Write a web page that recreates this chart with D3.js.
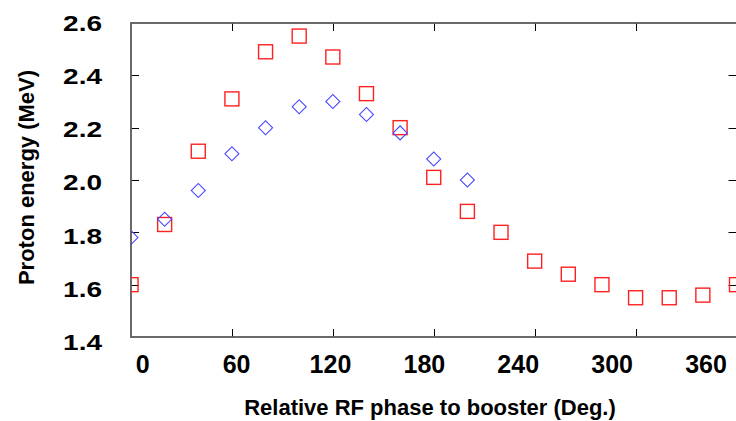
<!DOCTYPE html>
<html>
<head>
<meta charset="utf-8">
<script src="https://cdn.jsdelivr.net/npm/d3@7"></script>
<style>
  html, body { margin: 0; padding: 0; background: #fff; }
  svg { display: block; }
  text { font-family: "Liberation Sans", Arial, sans-serif; font-weight: bold; fill: #000; }
</style>
</head>
<body>
<svg id="chart" width="736" height="421"></svg>
<script>
// ---- data ----
const phaseRed = [0, 20, 40, 60, 80, 100, 120, 140, 160, 180, 200, 220, 240, 260, 280, 300, 320, 340, 360];
const energyRed = [1.60, 1.83, 2.11, 2.31, 2.49, 2.55, 2.47, 2.33, 2.20, 2.01, 1.88, 1.80, 1.69, 1.64, 1.60, 1.55, 1.55, 1.56, 1.60];
const phaseBlue = [0, 20, 40, 60, 80, 100, 120, 140, 160, 180, 200];
const energyBlue = [1.78, 1.85, 1.96, 2.10, 2.20, 2.28, 2.30, 2.25, 2.18, 2.08, 2.00];
const xTicks = [0, 60, 120, 180, 240, 300, 360];
const yTicks = [1.4, 1.6, 1.8, 2.0, 2.2, 2.4, 2.6];
const xTitle = "Relative RF phase to booster (Deg.)";
const yTitle = "Proton energy (MeV)";

// ---- layout ----
const pL = 131, pR = 736.5, pT = 23, pB = 337;
const svg = d3.select("#chart");

const x = d3.scaleLinear().domain([0, 360]).range([pL, pR]);
const y = d3.scaleLinear().domain([1.4, 2.6]).range([pB, pT]);
// label placement scales (labels in the original are offset from the ticks)
const xLab = d3.scaleLinear().domain([0, 360]).range([142.7, 706]);
const yLab = d3.scaleLinear().domain([1.4, 2.6]).range([342.5, 22.7]);

// clip
svg.append("clipPath").attr("id", "clip")
  .append("rect").attr("x", pL).attr("y", pT).attr("width", pR - pL + 2).attr("height", pB - pT);

// ticks (inward) on all four sides
const tickLen = 8;
const gT = svg.append("g").attr("stroke", "#000").attr("stroke-width", 1);
xTicks.slice(1, -1).forEach(v => {
  const xx = Math.round(x(v)) + 0.5;
  gT.append("line").attr("x1", xx).attr("x2", xx).attr("y1", pB).attr("y2", pB - tickLen);
  gT.append("line").attr("x1", xx).attr("x2", xx).attr("y1", pT).attr("y2", pT + tickLen);
});
yTicks.slice(1, -1).forEach(v => {
  const yy = Math.round(y(v)) + 0.5;
  gT.append("line").attr("y1", yy).attr("y2", yy).attr("x1", pL).attr("x2", pL + tickLen);
  gT.append("line").attr("y1", yy).attr("y2", yy).attr("x1", pR).attr("x2", pR - tickLen);
});

// frame
svg.append("rect").attr("x", pL).attr("y", pT)
  .attr("width", pR - pL + 2).attr("height", pB - pT)
  .attr("fill", "none").attr("stroke", "#5a5a5a").attr("stroke-width", 1.8);

// markers
const gM = svg.append("g").attr("clip-path", "url(#clip)");
const redPts = phaseRed.map((p, i) => ({ p, e: energyRed[i] }));
const bluePts = phaseBlue.map((p, i) => ({ p, e: energyBlue[i] }));

gM.selectAll("rect.red").data(redPts).enter().append("rect")
  .attr("class", "red")
  .attr("x", d => x(d.p) - 7).attr("y", d => y(d.e) - 7)
  .attr("width", 14).attr("height", 14)
  .attr("fill", "none").attr("stroke", "#ff2020").attr("stroke-width", 1.4);

const diamond = d3.symbol().type(d3.symbolSquare).size(98);
gM.selectAll("path.blue").data(bluePts).enter().append("path")
  .attr("class", "blue")
  .attr("d", diamond)
  .attr("transform", d => `translate(${x(d.p)},${y(d.e)}) rotate(45)`)
  .attr("fill", "none").attr("stroke", "#4848ff").attr("stroke-width", 1.1);

// tick labels
svg.append("g").selectAll("text").data(xTicks).enter().append("text")
  .attr("x", d => xLab(d)).attr("y", 373)
  .attr("text-anchor", "middle").attr("font-size", 25)
  .text(d => d);

svg.append("g").selectAll("text").data(yTicks).enter().append("text")
  .attr("transform", d => `translate(102,${yLab(d)}) scale(1.12,0.87)`)
  .attr("dy", "0.36em")
  .attr("text-anchor", "end").attr("font-size", 25)
  .text(d => d3.format(".1f")(d));

// axis titles
svg.append("text").attr("x", 430).attr("y", 415)
  .attr("text-anchor", "middle").attr("font-size", 22).text(xTitle);
svg.append("text").attr("transform", "translate(34,177.5) rotate(-90)")
  .attr("text-anchor", "middle").attr("font-size", 22).text(yTitle);
</script>
</body>
</html>
